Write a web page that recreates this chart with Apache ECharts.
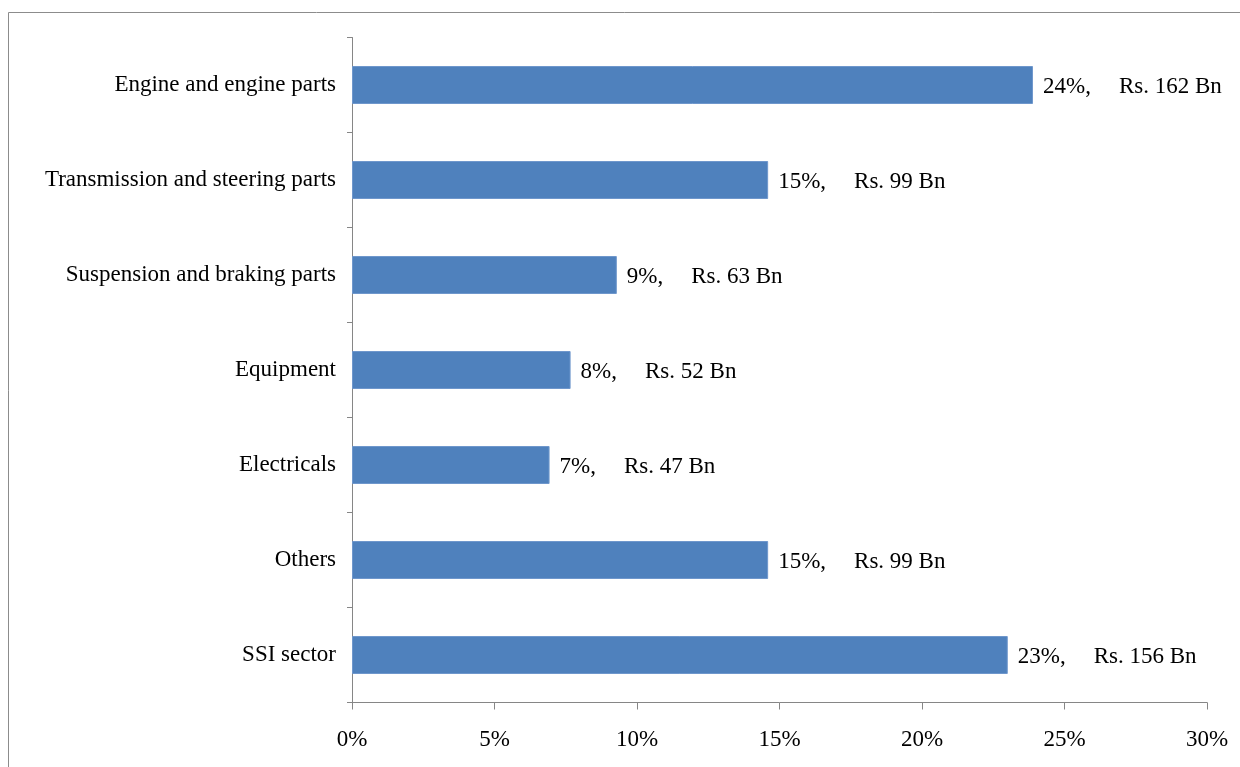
<!DOCTYPE html>
<html>
<head>
<meta charset="utf-8">
<script src="https://cdn.jsdelivr.net/npm/echarts@6/dist/echarts.min.js"></script>
<style>
  html, body { margin: 0; padding: 0; background: #ffffff; }
  #chart { width: 1240px; height: 767px; }
</style>
</head>
<body>
<div id="chart"></div>
<script>
// Auto component segments, value in Rs. billion
const categories = [
  'Engine and engine parts',
  'Transmission and steering parts',
  'Suspension and braking parts',
  'Equipment',
  'Electricals',
  'Others',
  'SSI sector'
];
const valuesRsBn = [162, 99, 63, 52, 47, 99, 156];
const xTickLabels = ['0%', '5%', '10%', '15%', '20%', '25%', '30%'];

// Share of the total, in percent
const total = valuesRsBn.reduce((a, b) => a + b, 0);
const shares = valuesRsBn.map(v => v / total * 100);

const FONT = '"Liberation Serif", "DejaVu Serif", serif';
const FONT_SIZE = 23;
const AXIS_COLOR = '#868686';

const chart = echarts.init(document.getElementById('chart'));
chart.setOption({
  animation: false,
  backgroundColor: '#ffffff',
  graphic: [{
    type: 'rect',
    shape: { x: 8.5, y: 12.5, width: 1300, height: 800 },
    style: { fill: 'none', stroke: '#8c8c8c', lineWidth: 1 },
    silent: true
  }],
  grid: { left: 352, right: 33, top: 37.5, bottom: 64.5, containLabel: false },
  xAxis: {
    type: 'value',
    min: 0,
    max: 30,
    interval: 5,
    splitLine: { show: false },
    axisLine: { show: true, lineStyle: { color: AXIS_COLOR, width: 1 } },
    axisTick: { show: true, length: 7, lineStyle: { color: AXIS_COLOR } },
    axisLabel: {
      margin: 26,
      color: '#000',
      fontFamily: FONT,
      fontSize: FONT_SIZE,
      formatter: (v) => xTickLabels[Math.round(v / 5)]
    }
  },
  yAxis: {
    type: 'category',
    data: categories,
    inverse: true,
    axisLine: { show: true, lineStyle: { color: AXIS_COLOR, width: 1 } },
    axisTick: { show: true, length: 5, inside: false, lineStyle: { color: AXIS_COLOR } },
    axisLabel: { margin: 16, color: '#000', fontFamily: FONT, fontSize: FONT_SIZE, padding: [4, 0, 0, 0] }
  },
  series: [{
    type: 'bar',
    data: shares,
    barWidth: 38,
    itemStyle: { color: '#4F81BD', borderColor: '#6f97cc', borderWidth: 1 },
    label: {
      show: true,
      position: 'right',
      distance: 10,
      offset: [0, 2],
      fontFamily: FONT,
      fontSize: FONT_SIZE,
      color: '#000',
      formatter: (p) => '{p|' + Math.round(p.value) + '%,}{r|Rs. ' + valuesRsBn[p.dataIndex] + ' Bn}',
      rich: {
        p: { fontFamily: FONT, fontSize: FONT_SIZE, color: '#000', padding: [0, 28, 0, 0] },
        r: { fontFamily: FONT, fontSize: FONT_SIZE, color: '#000' }
      }
    }
  }]
});
</script>
</body>
</html>
